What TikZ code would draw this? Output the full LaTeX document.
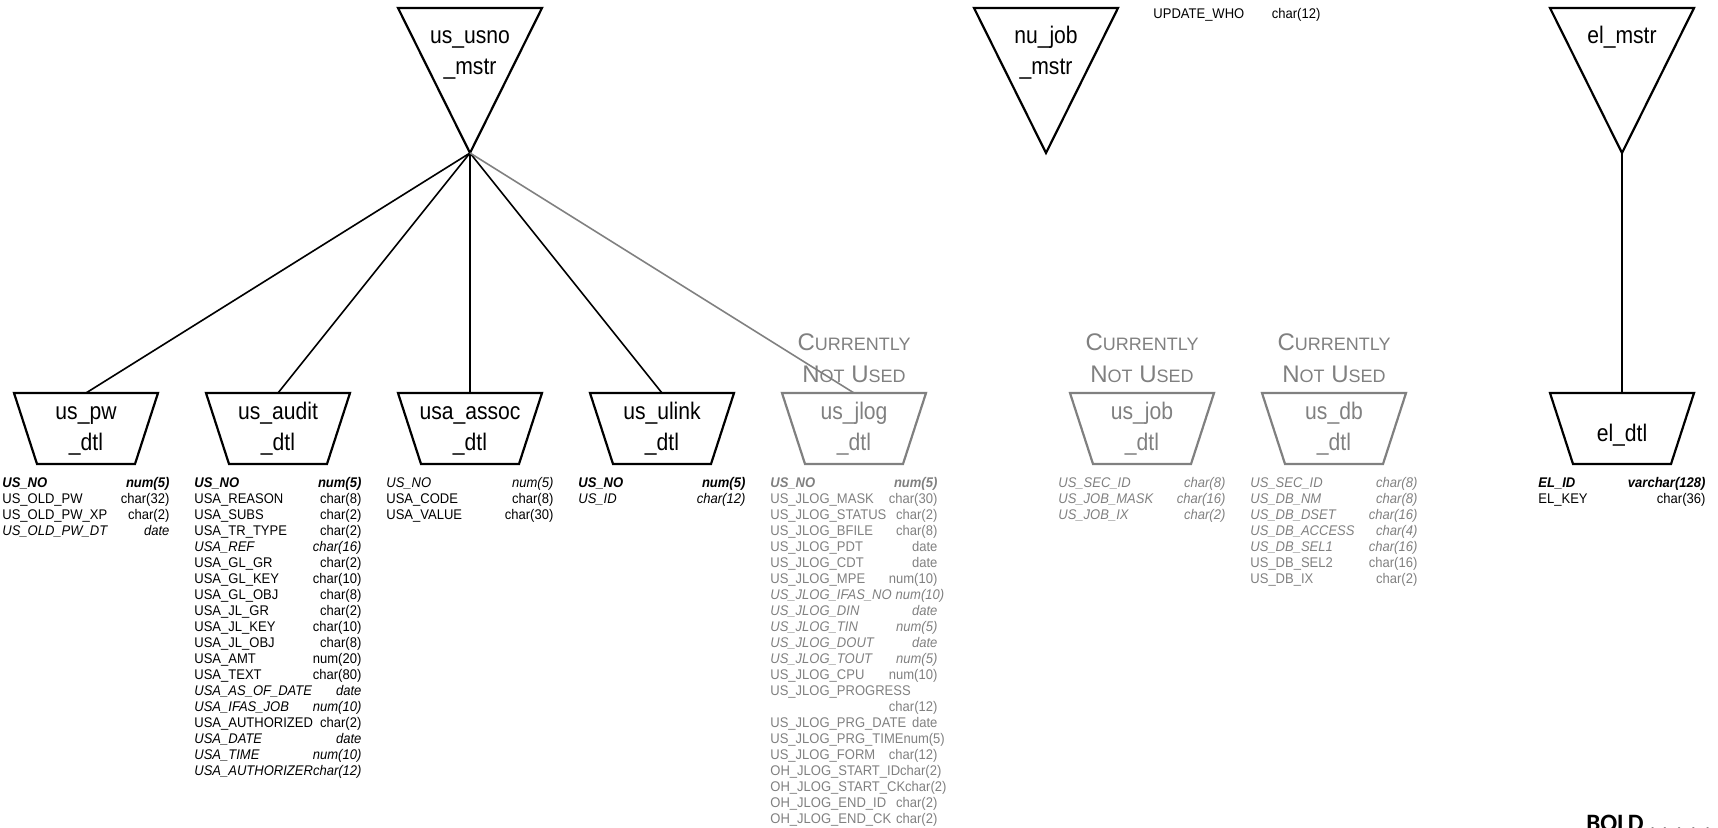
\documentclass[tikz,border=0pt]{standalone}
\usepackage{fontspec}
\setmainfont{Liberation Sans}[FakeStretch=0.93]
\newfontfamily\titlefont{Liberation Sans}[FakeStretch=0.88]
\newfontfamily\capsfont{Liberation Sans}
\newfontfamily\notefont{Carlito}
\definecolor{notused}{RGB}{128,128,128}
% one field row: name left, type right
\newcommand{\fr}[2]{\hbox to 83.5pt{\strut#1\hfil#2}}
\newcommand{\bi}[1]{\textbf{\textit{#1}}}
\newcommand{\smcap}[1]{{\fontsize{9}{16}\selectfont#1}}
\begin{document}
\begin{tikzpicture}[x=0.5pt, y=-0.5pt,
	shp/.style={line width=1.1pt, line join=miter},
	link/.style={line width=0.8pt},
	ttl/.style={align=center, inner sep=0, font=\titlefont\fontsize{12}{15.5}\selectfont},
	note/.style={align=center, inner sep=0, text=notused, font=\capsfont\fontsize{12}{16}\selectfont},
	fld/.style={anchor=north west, inner sep=0, align=left, font=\fontsize{7}{8}\selectfont}]
	\useasboundingbox (0,0) rectangle (1718,828);
	
	% Master-Tabellen (Dreiecke)
	\foreach \nm/\cx/\first in {usno/470/us\_usno, nujob/1046/nu\_job} {
		\draw[shp] (\cx-72,8) -- (\cx+72,8) -- (\cx,153) -- cycle;
		\node[ttl] (\nm) at (\cx,53) {\first\strut\\\_mstr\strut};
		\coordinate (\nm-tip) at (\cx,153);
	}
	\draw[shp] (1550,8) -- (1694,8) -- (1622,153) -- cycle;
	\node[ttl] (elm) at (1622,37) {el\_mstr\strut};
	\coordinate (elm-tip) at (1622,153);
	
	% Detail-Tabellen (Trapeze)
	\foreach \nm/\cx/\first/\clr in {pw/86/us\_pw/black, audit/278/us\_audit/black,
		assoc/470/usa\_assoc/black, ulink/662/us\_ulink/black, jlog/854/us\_jlog/notused,
		job/1142/us\_job/notused, db/1334/us\_db/notused} {
		\draw[shp, \clr] (\cx-72,393) -- (\cx+72,393) -- (\cx+49,464) -- (\cx-49,464) -- cycle;
		\node[ttl, text=\clr] (\nm) at (\cx,429) {\first\strut\\\_dtl\strut};
		\coordinate (\nm-top) at (\cx,393);
	}
	\draw[shp] (1550,393) -- (1694,393) -- (1671,464) -- (1573,464) -- cycle;
	\node[ttl] (eld) at (1622,435) {el\_dtl\strut};
	\coordinate (eld-top) at (1622,393);
	
	% nicht benutzt
	\foreach \nm/\cx in {jlog/854, job/1142, db/1334}
		\node[note] (\nm-note) at (\cx,360) {C\smcap{URRENTLY}\strut\\N\smcap{OT} U\smcap{SED}\strut};
	
	% Verbindungen
	\foreach \nm in {pw, audit, assoc, ulink}
		\draw[link] (usno-tip) -- (\nm-top);
	\draw[link, notused] (usno-tip) -- (jlog-top);
	\draw[link] (elm-tip) -- (eld-top);
	
	% Felder
	\node[fld] (pw-f) at (2,476) {\fr{\bi{US\_NO}}{\bi{num(5)}}\\
		\fr{US\_OLD\_PW}{char(32)}\\
		\fr{US\_OLD\_PW\_XP}{char(2)}\\
		\fr{\textit{US\_OLD\_PW\_DT}}{\textit{date}}};
	\node[fld] (audit-f) at (194,476) {\fr{\bi{US\_NO}}{\bi{num(5)}}\\
		\fr{USA\_REASON}{char(8)}\\
		\fr{USA\_SUBS}{char(2)}\\
		\fr{USA\_TR\_TYPE}{char(2)}\\
		\fr{\textit{USA\_REF}}{\textit{char(16)}}\\
		\fr{USA\_GL\_GR}{char(2)}\\
		\fr{USA\_GL\_KEY}{char(10)}\\
		\fr{USA\_GL\_OBJ}{char(8)}\\
		\fr{USA\_JL\_GR}{char(2)}\\
		\fr{USA\_JL\_KEY}{char(10)}\\
		\fr{USA\_JL\_OBJ}{char(8)}\\
		\fr{USA\_AMT}{num(20)}\\
		\fr{USA\_TEXT}{char(80)}\\
		\fr{\textit{USA\_AS\_OF\_DATE}}{\textit{date}}\\
		\fr{\textit{USA\_IFAS\_JOB}}{\textit{num(10)}}\\
		\fr{USA\_AUTHORIZED}{char(2)}\\
		\fr{\textit{USA\_DATE}}{\textit{date}}\\
		\fr{\textit{USA\_TIME}}{\textit{num(10)}}\\
		\fr{\textit{USA\_AUTHORIZER}}{\textit{char(12)}}};
	\node[fld] (assoc-f) at (386,476) {\fr{\textit{US\_NO}}{\textit{num(5)}}\\
		\fr{USA\_CODE}{char(8)}\\
		\fr{USA\_VALUE}{char(30)}};
	\node[fld] (ulink-f) at (578,476) {\fr{\bi{US\_NO}}{\bi{num(5)}}\\
		\fr{\textit{US\_ID}}{\textit{char(12)}}};
	\node[fld, text=notused] (jlog-f) at (770,476) {\fr{\bi{US\_NO}}{\bi{num(5)}}\\
		\fr{US\_JLOG\_MASK}{char(30)}\\
		\fr{US\_JLOG\_STATUS}{char(2)}\\
		\fr{US\_JLOG\_BFILE}{char(8)}\\
		\fr{US\_JLOG\_PDT}{date}\\
		\fr{US\_JLOG\_CDT}{date}\\
		\fr{US\_JLOG\_MPE}{num(10)}\\
		\fr{\textit{US\_JLOG\_IFAS\_NO}\kern2pt}{\textit{num(10)}}\\
		\fr{\textit{US\_JLOG\_DIN}}{\textit{date}}\\
		\fr{\textit{US\_JLOG\_TIN}}{\textit{num(5)}}\\
		\fr{\textit{US\_JLOG\_DOUT}}{\textit{date}}\\
		\fr{\textit{US\_JLOG\_TOUT}}{\textit{num(5)}}\\
		\fr{US\_JLOG\_CPU}{num(10)}\\
		\fr{US\_JLOG\_PROGRESS}{}\\
		\fr{}{char(12)}\\
		\fr{US\_JLOG\_PRG\_DATE}{date}\\
		\fr{US\_JLOG\_PRG\_TIME}{num(5)}\\
		\fr{US\_JLOG\_FORM}{char(12)}\\
		\fr{OH\_JLOG\_START\_ID}{char(2)}\\
		\fr{OH\_JLOG\_START\_CK}{char(2)}\\
		\fr{OH\_JLOG\_END\_ID}{char(2)}\\
		\fr{OH\_JLOG\_END\_CK}{char(2)}};
	\node[fld, text=notused] (job-f) at (1058,476) {\fr{\textit{US\_SEC\_ID}}{\textit{char(8)}}\\
		\fr{\textit{US\_JOB\_MASK}}{\textit{char(16)}}\\
		\fr{\textit{US\_JOB\_IX}}{\textit{char(2)}}};
	\node[fld, text=notused] (db-f) at (1250,476) {\fr{\textit{US\_SEC\_ID}}{\textit{char(8)}}\\
		\fr{\textit{US\_DB\_NM}}{\textit{char(8)}}\\
		\fr{\textit{US\_DB\_DSET}}{\textit{char(16)}}\\
		\fr{\textit{US\_DB\_ACCESS}}{\textit{char(4)}}\\
		\fr{\textit{US\_DB\_SEL1}}{\textit{char(16)}}\\
		\fr{US\_DB\_SEL2}{char(16)}\\
		\fr{US\_DB\_IX}{char(2)}};
	\node[fld] (eld-f) at (1538,476) {\fr{\bi{EL\_ID}}{\bi{varchar(128)}}\\
		\fr{EL\_KEY}{char(36)}};
	
	% abgeschnittene Reste am Rand
	\node[fld] (who) at (1153,7) {\fr{UPDATE\_WHO}{char(12)}};
	\node[anchor=north west, inner sep=0, font=\notefont\bfseries\fontsize{12.5}{14}\selectfont] (legend) at (1586,815) {BOLD . . . . . . .};
\end{tikzpicture}
\end{document}
